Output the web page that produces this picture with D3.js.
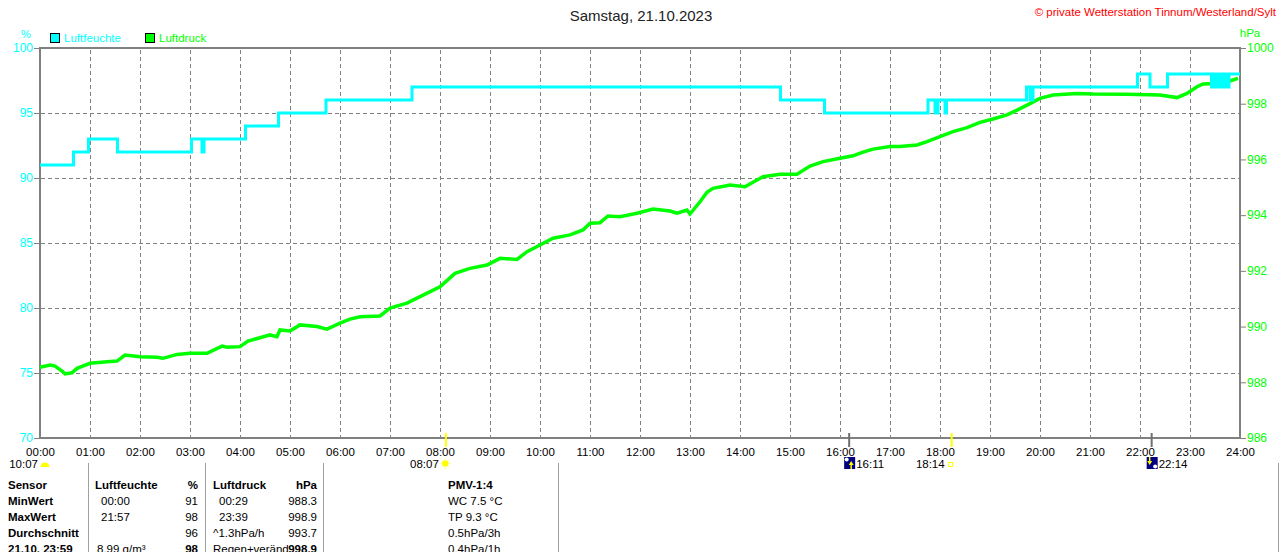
<!DOCTYPE html>
<html>
<head>
<meta charset="utf-8">
<script src="https://cdn.jsdelivr.net/npm/d3@7"></script>
<style>
  body { margin: 0; background: #fff; }
  svg { display: block; font-family: "Liberation Sans", Arial, sans-serif; }
</style>
</head>
<body>
<svg id="chart" width="1280" height="552"></svg>
<script>
//////////////////////////////////////////////////////////// DATOS

var titulo = "Samstag, 21.10.2023";
var copyright = "© private Wetterstation Tinnum/Westerland/Sylt";

var horasEtiquetas = ["00:00","01:00","02:00","03:00","04:00","05:00","06:00","07:00","08:00","09:00","10:00","11:00","12:00",
  "13:00","14:00","15:00","16:00","17:00","18:00","19:00","20:00","21:00","22:00","23:00","24:00"];
var humTicks = [100, 95, 90, 85, 80, 75, 70];
var druckTicks = [1000, 998, 996, 994, 992, 990, 988, 986];

// Luftfeuchte: Stufen [Stunde, %]
var humZeit = [0, 0.67, 0.97, 1.55, 3.03, 3.24, 3.28, 4.11, 4.77, 5.72, 7.44, 14.81, 15.69,
  17.76, 17.9, 17.96, 18.1, 18.13, 19.73, 19.8, 19.86, 21.95, 22.2, 22.55,
  23.43, 23.47, 23.5, 23.55, 23.58, 23.62, 23.65, 23.7, 23.73, 23.78, 24];
var humWert = [91, 92, 93, 92, 93, 92, 93, 94, 95, 96, 97, 96, 95,
  96, 95, 96, 95, 96, 97, 96, 97, 98, 97, 98,
  97, 98, 97, 98, 97, 98, 97, 98, 97, 98, 98];

// Luftdruck [Stunde, hPa]
var druckZeit = [0, 0.2, 0.3, 0.46, 0.5, 0.64, 0.74, 1.0, 1.34, 1.54, 1.7, 2.0, 2.34, 2.46, 2.74, 3.0, 3.34,
  3.64, 3.74, 4.0, 4.16, 4.4, 4.6, 4.74, 4.8, 5.0, 5.2, 5.54, 5.74, 6.0, 6.2, 6.4, 6.8, 7.0, 7.34,
  7.66, 8.0, 8.3, 8.6, 8.94, 9.2, 9.54, 9.74, 10.0, 10.26, 10.6, 10.86, 11.0, 11.2, 11.36, 11.6,
  11.94, 12.26, 12.6, 12.74, 12.94, 13.0, 13.2, 13.34, 13.46, 13.8, 14.1, 14.26, 14.46, 14.8, 15.14,
  15.4, 15.66, 16.0, 16.26, 16.46, 16.66, 17.0, 17.2, 17.54, 17.74, 18.0, 18.26, 18.54, 18.8, 19.06,
  19.34, 19.54, 19.74, 20.0, 20.26, 20.74, 21.06, 21.74, 22.4, 22.74, 22.94, 23.14, 23.26, 23.6,
  23.65, 23.8, 23.96];
var druckWert = [988.54, 988.62, 988.58, 988.38, 988.30, 988.34, 988.50, 988.68, 988.74, 988.76, 988.98,
  988.92, 988.90, 988.86, 989.00, 989.04, 989.04, 989.30, 989.26, 989.28, 989.48, 989.60, 989.70,
  989.64, 989.88, 989.84, 990.06, 990.00, 989.91, 990.12, 990.27, 990.35, 990.38, 990.66, 990.84,
  991.13, 991.43, 991.91, 992.09, 992.21, 992.45, 992.41, 992.69, 992.93, 993.17, 993.29, 993.47,
  993.71, 993.73, 993.97, 993.94, 994.07, 994.22, 994.15, 994.07, 994.18, 994.04, 994.48, 994.82,
  994.96, 995.08, 995.02, 995.18, 995.38, 995.47, 995.47, 995.76, 995.92, 996.04, 996.13, 996.26,
  996.37, 996.46, 996.46, 996.52, 996.64, 996.82, 997.00, 997.14, 997.33, 997.45, 997.60, 997.77,
  997.95, 998.19, 998.31, 998.37, 998.35, 998.34, 998.31, 998.22, 998.37, 998.61, 998.71, 998.73,
  998.88, 998.82, 998.91];

// Sonne / Mond [Stunde, Text]
var sonnenAuf = [8 + 7 / 60, "08:07"];
var sonnenUnter = [18 + 14 / 60, "18:14"];
var mondAuf = [16 + 11 / 60, "16:11"];
var mondUnter = [22 + 14 / 60, "22:14"];
var tagLaenge = "10:07";

// Tabelle
var tabSpalteA = ["Sensor", "MinWert", "MaxWert", "Durchschnitt", "21.10. 23:59"];
var tabHumZeit = ["Luftfeuchte", "00:00", "21:57", "", "8.99 g/m³"];
var tabHumWert = ["%", "91", "98", "96", "98"];
var tabDruckZeit = ["Luftdruck", "00:29", "23:39", "^1.3hPa/h", "Regen+veränd"];
var tabDruckWert = ["hPa", "988.3", "998.9", "993.7", "998.9"];
var tabPmv = ["PMV-1:4", "WC 7.5 °C", "TP 9.3 °C", "0.5hPa/3h", "0.4hPa/1h"];

//////////////////////////////////////////////////////////// ESCALAS

var svg = d3.select("#chart");
var cyan = "#00ffff", gruen = "#00ff00", grau = "#808080";

var x = d3.scaleLinear().domain([0, 24]).range([40, 1240]);
var yHum = d3.scaleLinear().domain([70, 100]).range([438, 48]);
var yDruck = d3.scaleLinear().domain([986, 1000]).range([438, 48]);

svg.append("rect").attr("width", 1280).attr("height", 552).attr("fill", "#fff");

// titulo y copyright
svg.append("text").attr("x", 641).attr("y", 21).attr("text-anchor", "middle")
  .attr("font-size", 15).attr("fill", "#222").text(titulo);
svg.append("text").attr("x", 1276).attr("y", 16).attr("text-anchor", "end")
  .attr("font-size", 11.5).attr("fill", "#ff0000").text(copyright);

svg.append("text").attr("x", 26).attr("y", 38).attr("text-anchor", "middle")
  .attr("font-size", 11).attr("fill", cyan).text("%");
svg.append("text").attr("x", 1250).attr("y", 37).attr("text-anchor", "middle")
  .attr("font-size", 11.5).attr("fill", gruen).text("hPa");

// leyenda
var leyenda = [["Luftfeuchte", cyan, 50], ["Luftdruck", gruen, 145]];
leyenda.forEach(function (l) {
  svg.append("rect").attr("x", l[2] + 0.5).attr("y", 33.5).attr("width", 9).attr("height", 9)
    .attr("fill", l[1]).attr("stroke", "#000");
  svg.append("text").attr("x", l[2] + 14).attr("y", 42).attr("font-size", 11.5)
    .attr("fill", l[1]).text(l[0]);
});

//////////////////////////////////////////////////////////// REJILLA

var rejilla = svg.append("g").attr("stroke", grau).attr("stroke-dasharray", "4,3").attr("stroke-width", 1);
d3.range(1, 24).forEach(function (h) {
  rejilla.append("line").attr("x1", x(h) + 0.5).attr("x2", x(h) + 0.5).attr("y1", 50).attr("y2", 437);
});
humTicks.slice(1, -1).forEach(function (v) {
  rejilla.append("line").attr("x1", 41).attr("x2", 1239).attr("y1", Math.round(yHum(v)) + 0.5).attr("y2", Math.round(yHum(v)) + 0.5);
});

//////////////////////////////////////////////////////////// EJES

var ejeIzq = d3.axisLeft(yHum).tickValues(humTicks).tickSize(6).tickPadding(1);
var gIzq = svg.append("g").attr("transform", "translate(40,0)").call(ejeIzq);
gIzq.select(".domain").remove();
gIzq.selectAll("line").attr("stroke", grau);
gIzq.selectAll("text").attr("fill", cyan).attr("font-size", 12).attr("font-family", "Liberation Sans, Arial");

var ejeDer = d3.axisRight(yDruck).tickValues(druckTicks).tickSize(6).tickPadding(1).tickFormat(d3.format("d"));
var gDer = svg.append("g").attr("transform", "translate(1240,0)").call(ejeDer);
gDer.select(".domain").remove();
gDer.selectAll("line").attr("stroke", grau);
gDer.selectAll("text").attr("fill", gruen).attr("font-size", 12).attr("font-family", "Liberation Sans, Arial");

var ejeAbajo = d3.axisBottom(x).tickValues(d3.range(0, 25)).tickSize(0).tickPadding(10)
  .tickFormat(function (d, i) { return horasEtiquetas[i]; });
var gAbajo = svg.append("g").attr("transform", "translate(0,438)").call(ejeAbajo);
gAbajo.select(".domain").remove();
gAbajo.selectAll("text").attr("fill", "#000").attr("font-size", 11.5).attr("font-family", "Liberation Sans, Arial");

// marco
svg.append("rect").attr("x", 40).attr("y", 48).attr("width", 1200).attr("height", 390)
  .attr("fill", "none").attr("stroke", grau).attr("stroke-width", 2);

//////////////////////////////////////////////////////////// LINEAS

var humDatos = humZeit.map(function (t, i) { return [t, humWert[i]]; });
var druckDatos = druckZeit.map(function (t, i) { return [t, druckWert[i]]; });

var lineaHum = d3.line().x(function (d) { return x(d[0]); }).y(function (d) { return yHum(d[1]); })
  .curve(d3.curveStepAfter);
var lineaDruck = d3.line().x(function (d) { return x(d[0]); }).y(function (d) { return yDruck(d[1]); });

svg.append("path").datum(druckDatos).attr("d", lineaDruck).attr("fill", "none")
  .attr("stroke", gruen).attr("stroke-width", 3.5).attr("stroke-linejoin", "miter");
svg.append("path").datum(humDatos).attr("d", lineaHum).attr("fill", "none")
  .attr("stroke", cyan).attr("stroke-width", 3);

//////////////////////////////////////////////////////////// SOL Y LUNA

function marca(h, color) {
  svg.append("line").attr("x1", x(h)).attr("x2", x(h)).attr("y1", 433).attr("y2", 447)
    .attr("stroke", color).attr("stroke-width", 2);
}
marca(sonnenAuf[0], "#ffff00");
marca(sonnenUnter[0], "#ffff00");
marca(mondAuf[0], "#707070");
marca(mondUnter[0], "#707070");

var fila2 = 468;
// duracion del dia
svg.append("text").attr("x", 38).attr("y", fila2).attr("text-anchor", "end").attr("font-size", 11.5).text(tagLaenge);
svg.append("path").attr("d", d3.arc()({ innerRadius: 0, outerRadius: 4.5, startAngle: -Math.PI / 2, endAngle: Math.PI / 2 }))
  .attr("transform", "translate(45,467)").attr("fill", "#ffff00");

// salida del sol
var sx = x(sonnenAuf[0]);
svg.append("text").attr("x", sx - 7).attr("y", fila2).attr("text-anchor", "end").attr("font-size", 11.5).text(sonnenAuf[1]);
var sol = svg.append("g").attr("transform", "translate(" + (sx - 0.5) + ",463.5)");
sol.append("circle").attr("r", 3.2).attr("fill", "#ffff00");
d3.range(8).forEach(function (k) {
  var a = k * Math.PI / 4;
  sol.append("line").attr("x1", Math.cos(a) * 4).attr("y1", Math.sin(a) * 4)
    .attr("x2", Math.cos(a) * 5.5).attr("y2", Math.sin(a) * 5.5).attr("stroke", "#ffff66").attr("stroke-width", 1);
});

// puesta del sol
var ux = x(sonnenUnter[0]);
svg.append("text").attr("x", ux - 7).attr("y", fila2).attr("text-anchor", "end").attr("font-size", 11.5).text(sonnenUnter[1]);
svg.append("rect").attr("x", ux - 3).attr("y", 462.5).attr("width", 4).attr("height", 4)
  .attr("fill", "none").attr("stroke", "#ffff00");

// luna
function luna(h, texto, sube) {
  var mx = x(h);
  var g = svg.append("g").attr("transform", "translate(" + (mx - 5) + ",457)");
  g.append("rect").attr("width", 11).attr("height", 12).attr("fill", "#000080");
  g.append("circle").attr("cx", sube ? 2.5 : 8.5).attr("cy", sube ? 2.5 : 9.5).attr("r", 2).attr("fill", "#fff");
  var ax = sube ? 7 : 3;
  if (sube) {
    g.append("path").attr("d", "M" + ax + ",4 L" + (ax - 2.5) + ",8 L" + (ax + 2.5) + ",8 Z").attr("fill", "#ffff00");
    g.append("line").attr("x1", ax).attr("x2", ax).attr("y1", 7).attr("y2", 12).attr("stroke", "#ffff00").attr("stroke-width", 1.5);
  } else {
    g.append("path").attr("d", "M" + ax + ",8 L" + (ax - 2.5) + ",4 L" + (ax + 2.5) + ",4 Z").attr("fill", "#ffff00");
    g.append("line").attr("x1", ax).attr("x2", ax).attr("y1", 0).attr("y2", 5).attr("stroke", "#ffff00").attr("stroke-width", 1.5);
  }
  svg.append("text").attr("x", mx + 7).attr("y", fila2).attr("font-size", 11.5).text(texto);
}
luna(mondAuf[0], mondAuf[1], true);
luna(mondUnter[0], mondUnter[1], false);

//////////////////////////////////////////////////////////// TABLA

[88.5, 205.5, 323.5, 558.5, 1278.5].forEach(function (sx) {
  svg.append("line").attr("x1", sx).attr("x2", sx).attr("y1", 463).attr("y2", 552)
    .attr("stroke", "#a0a0a0").attr("stroke-width", 1);
});

var tabla = svg.append("g").attr("font-size", 11.5).attr("fill", "#000");
function columna(valores, xx, anchor, negrita) {
  valores.forEach(function (v, i) {
    var b = negrita(i);
    tabla.append("text").attr("x", xx).attr("y", 489 + i * 16).attr("text-anchor", anchor)
      .attr("font-weight", b ? "bold" : "normal").text(v);
  });
}
columna(tabSpalteA, 8, "start", function () { return true; });
columna(tabHumZeit, 95, "start", function (i) { return i == 0; });
columna(tabHumWert, 198, "end", function (i) { return i == 0 || i == 4; });
columna(tabDruckZeit, 213, "start", function (i) { return i == 0; });
columna(tabDruckWert, 317, "end", function (i) { return i == 0 || i == 4; });
columna(tabPmv, 448, "start", function (i) { return i == 0; });

// sangria de las horas
tabla.selectAll("text").filter(function () { return /^\d\d:\d\d$/.test(this.textContent); })
  .attr("x", function () { return +d3.select(this).attr("x") + 6; });
tabla.selectAll("text").filter(function () { return this.textContent == "8.99 g/m³"; })
  .attr("x", 97);
</script>
</body>
</html>
